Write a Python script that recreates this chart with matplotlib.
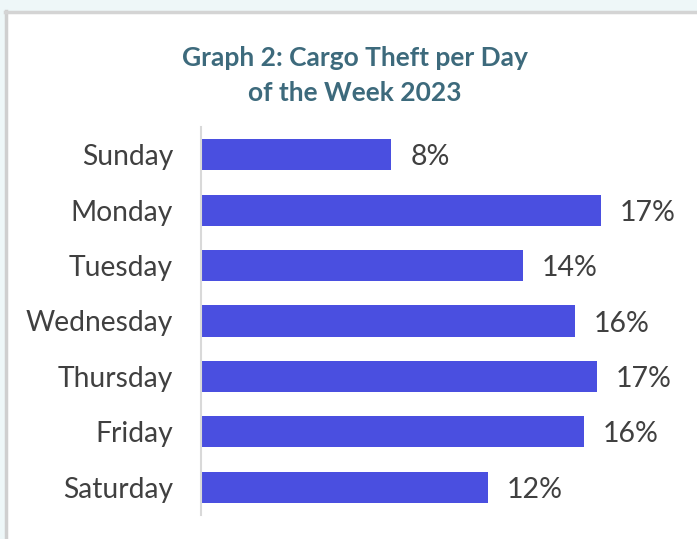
import matplotlib
matplotlib.use("Agg")
import matplotlib.pyplot as plt
from matplotlib.patches import Rectangle

# data
days = ["Sunday", "Monday", "Tuesday", "Wednesday", "Thursday", "Friday", "Saturday"]
share = [8.1, 17.0, 13.7, 15.9, 16.85, 16.3, 12.2]
share_labels = ["8%", "17%", "14%", "16%", "17%", "16%", "12%"]

plt.rcParams["font.family"] = ["Lato", "DejaVu Sans"]

fig = plt.figure(figsize=(6.97, 5.39), dpi=100)
fig.patch.set_facecolor("#eef7f8")

# white card with grey edge on left/top
W, H = 697, 539
fig.patches.append(Rectangle((5 / W, 0), 1, 1 - 11 / H, transform=fig.transFigure,
                             facecolor="white", edgecolor="none", zorder=-5))
fig.lines.append(plt.Line2D([6 / W, 6 / W], [0, 1 - 11 / H], transform=fig.transFigure,
                            color="#cfcfcf", lw=2.5, zorder=-4))
fig.lines.append(plt.Line2D([5 / W, 1], [1 - 12 / H, 1 - 12 / H], transform=fig.transFigure,
                            color="#d4d4d4", lw=2.5, zorder=-4))

ax = fig.add_axes([201 / W, 24 / H, 470 / W, 388 / H])
ax.set_zorder(2)
ax.set_facecolor("none")
y = list(range(len(days)))
ax.barh(y, share, height=0.56, color="#4a4fe0")
ax.set_xlim(0, 20)
ax.set_ylim(len(days) - 0.5, -0.5)
ax.set_yticks(y)
ax.set_yticklabels(days, fontsize=20.3, color="#404040", va="center_baseline")
ax.tick_params(axis="y", length=0, pad=20)
ax.set_xticks([])
for s in ["top", "right", "bottom"]:
    ax.spines[s].set_visible(False)
ax.spines["left"].set_color("#d9d9d9")
ax.spines["left"].set_linewidth(1.5)

for yi, v, lab in zip(y, share, share_labels):
    ax.text(v + 0.8, yi, lab, va="center_baseline", ha="left", fontsize=20.5, color="#404040")

fig.text(355 / W, 1 - 58 / H, "Graph 2: Cargo Theft per Day", ha="center", va="center",
         fontsize=19, fontweight="bold", color="#3d6a7c")
fig.text(355 / W, 1 - 93 / H, "of the Week 2023", ha="center", va="center",
         fontsize=19, fontweight="bold", color="#3d6a7c")

fig.savefig("out.png", dpi=100, facecolor=fig.get_facecolor())
